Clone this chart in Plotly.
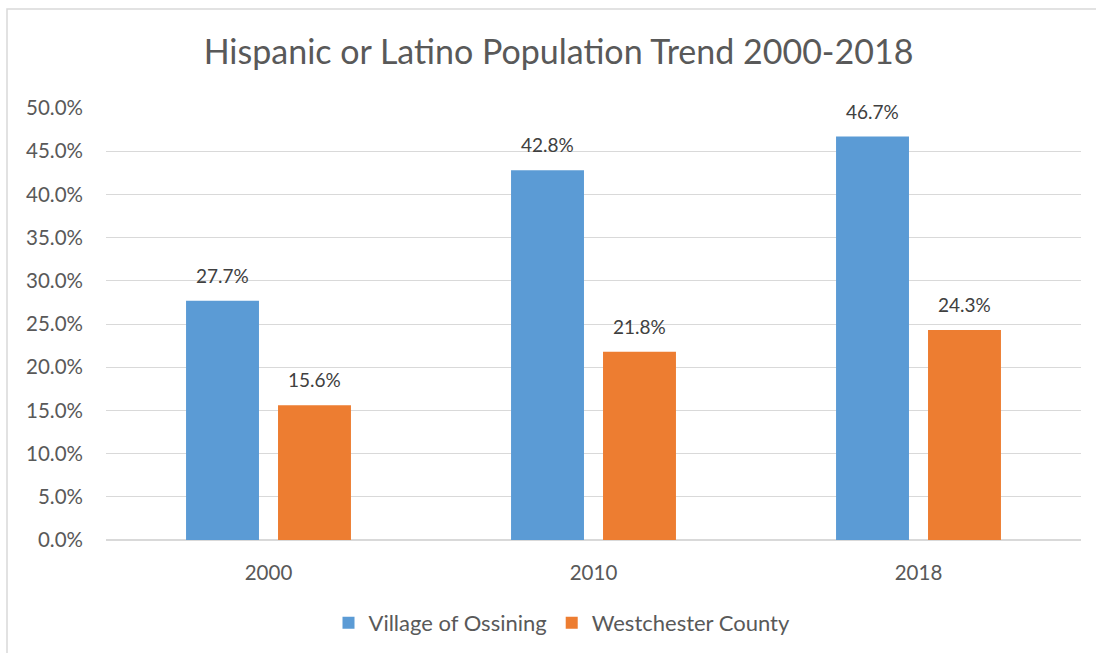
import plotly.graph_objects as go

years = ["2000", "2010", "2018"]
ossining = [0.277, 0.428, 0.467]
westchester = [0.156, 0.218, 0.243]
series_names = ["Village of Ossining", "Westchester County"]
colors = ["#5B9BD5", "#ED7D31"]
tick_vals = [0, 0.05, 0.10, 0.15, 0.20, 0.25, 0.30, 0.35, 0.40, 0.45, 0.50]

FONT = "Lato"
TXT = "#595959"
LBL = "#404040"

fig = go.Figure()
for name, vals, c in zip(series_names, [ossining, westchester], colors):
    fig.add_trace(go.Bar(
        x=years, y=vals, name=name, marker=dict(color=c, line=dict(width=0)),
        offsetgroup=name,
    ))

L, R, T, B = 106, 15, 108, 113
W, H = 1096, 653
pw = W - L - R
ph = H - T - B

bargap, bargroupgap = 0.434, 0.207
slot = (1 - bargap) / 2
offsets = [-slot / 2, slot / 2]

for vals, off in zip([ossining, westchester], offsets):
    for i, v in enumerate(vals):
        fig.add_annotation(
            x=i + off, y=v, xref="x", yref="y", text=f"{v*100:.1f}%",
            showarrow=False, yanchor="bottom", yshift=12,
            font=dict(family=FONT, size=19, color=LBL),
        )

fig.update_layout(
    width=W, height=H,
    margin=dict(l=L, r=R, t=T, b=B, autoexpand=False),
    paper_bgcolor="white", plot_bgcolor="white",
    barmode="group", bargap=bargap, bargroupgap=bargroupgap,
    title=dict(text="Hispanic or Latino Population Trend 2000-2018",
               xref="paper", x=(558.5 - L) / pw, xanchor="center",
               y=1 - 52 / H, yanchor="middle",
               font=dict(family=FONT, size=34, color=TXT)),
    xaxis=dict(showgrid=False, showline=False, ticks="",
               ticklabelstandoff=18,
               tickfont=dict(family=FONT, size=20.5, color=TXT)),
    yaxis=dict(range=[0, 0.5], tickvals=tick_vals, tickformat=".1%",
               gridcolor="#D9D9D9", gridwidth=1, zeroline=True,
               zerolinecolor="#D9D9D9", zerolinewidth=2, showline=False,
               ticks="", ticklabelstandoff=22,
               tickfont=dict(family=FONT, size=20.5, color=TXT)),
    legend=dict(orientation="h", x=(562 - L) / pw, xanchor="center",
                y=-(623 - (H - B)) / ph, yanchor="middle",
                font=dict(family=FONT, size=22, color=TXT),
                itemwidth=30, tracegroupgap=0),
    showlegend=True,
)

x0 = (7 - L) / pw
y1 = (H - B - 9) / ph
fig.add_shape(type="rect", xref="paper", yref="paper",
              x0=x0, x1=1.5, y0=-2, y1=y1,
              line=dict(color="#D9D9D9", width=1.5), fillcolor="rgba(0,0,0,0)",
              layer="below")

fig.write_html("out.html")
